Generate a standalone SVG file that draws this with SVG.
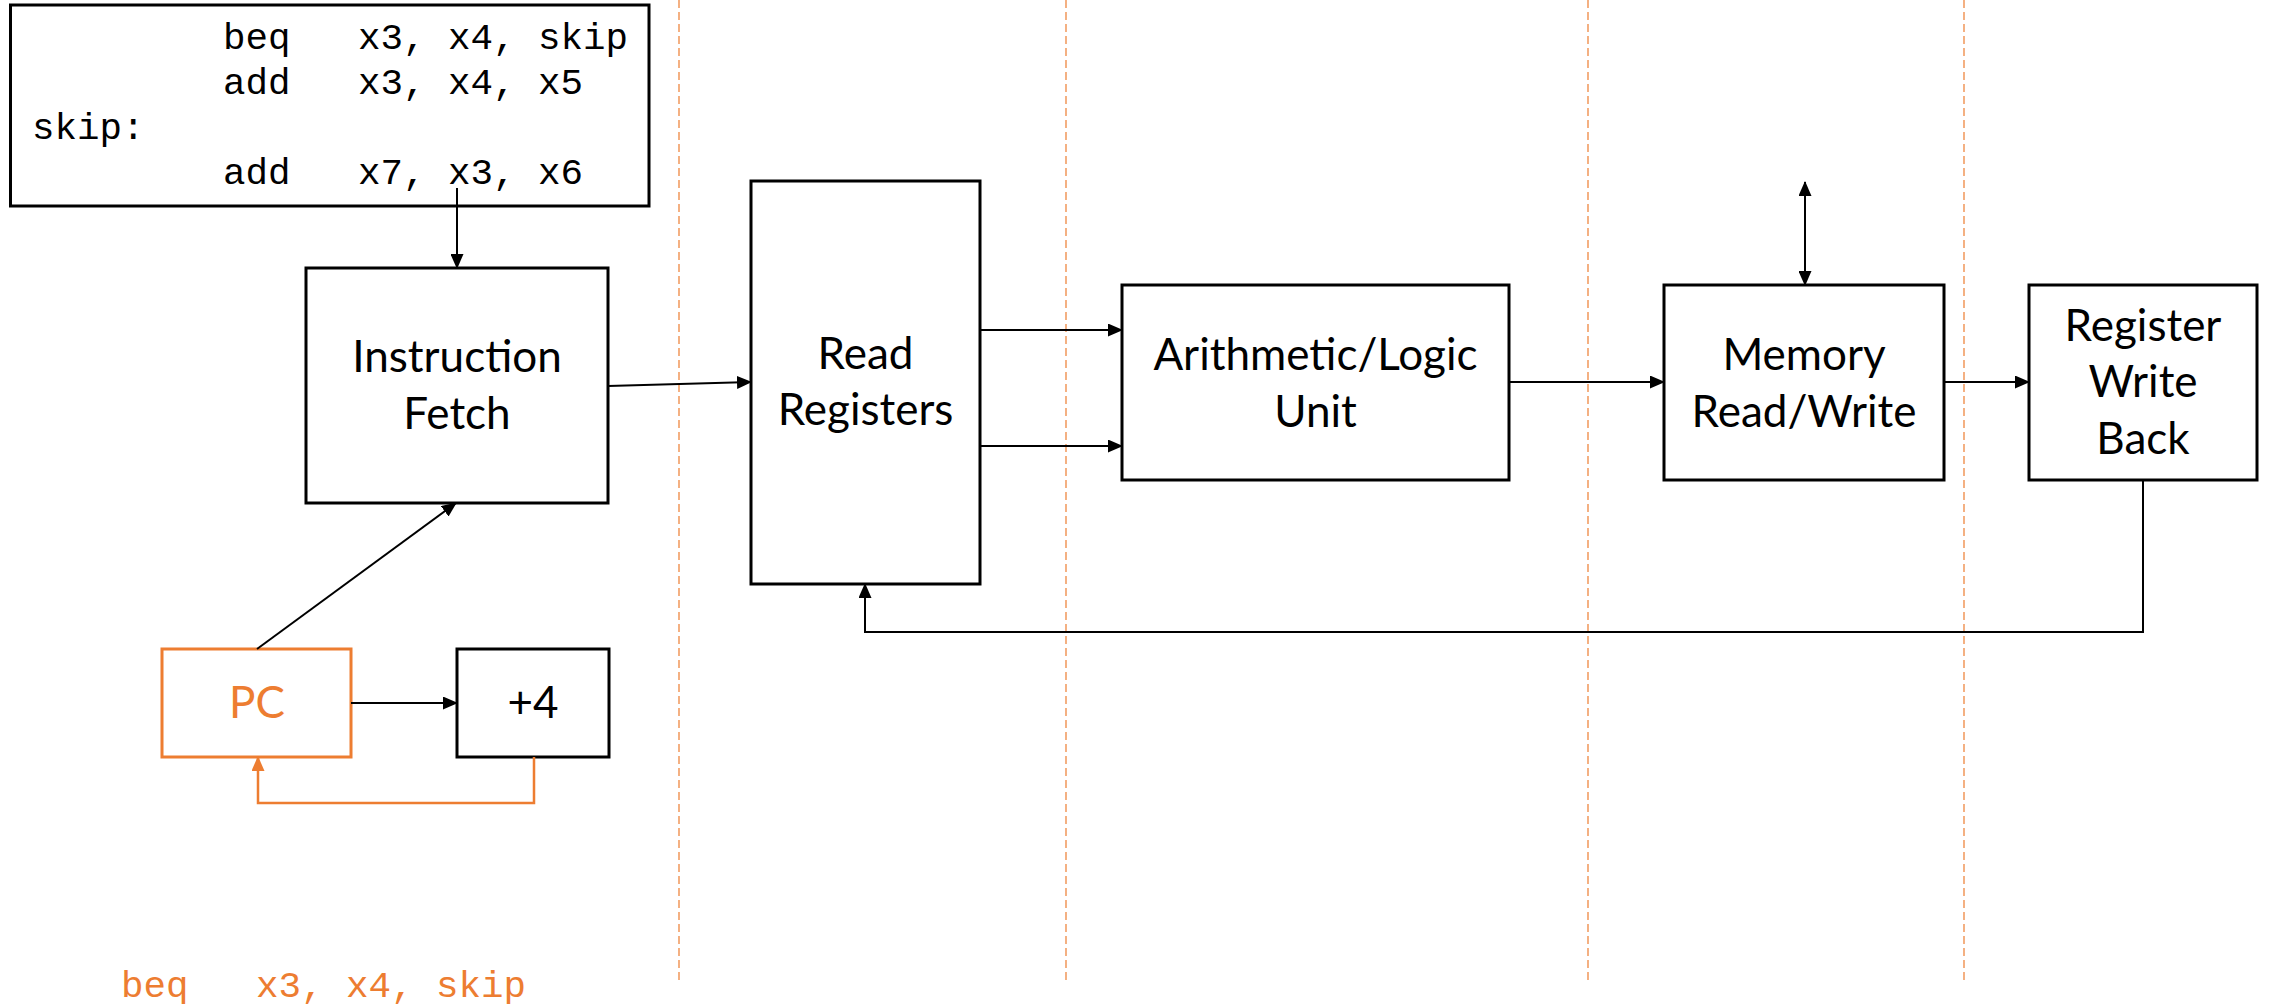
<svg xmlns="http://www.w3.org/2000/svg" width="2269" height="1004" viewBox="0 0 2269 1004">
  <style>
    .box { fill: #ffffff; stroke: #000000; stroke-width: 3; }
    .box-pc { fill: #ffffff; stroke: #ED7D31; stroke-width: 3; }
    .label { font-family: Lato, "Open Sans", sans-serif; font-size: 44px; fill: #000000; text-anchor: middle; }
    .label-pc { font-family: Lato, "Open Sans", sans-serif; font-size: 44px; fill: #ED7D31; text-anchor: middle; }
    .code { font-family: "Liberation Mono", monospace; font-size: 37.5px; fill: #000000; white-space: pre; }
    .code-pc { font-family: "Liberation Mono", monospace; font-size: 37.5px; fill: #ED7D31; white-space: pre; }
    .wire { fill: none; stroke: #000000; stroke-width: 2; }
    .wire-pc { fill: none; stroke: #ED7D31; stroke-width: 2.5; }
    .stage { stroke: #ED7D31; stroke-width: 1.2; stroke-dasharray: 8 4; }
  </style>
  <defs>
    <marker id="arrow" markerUnits="userSpaceOnUse" markerWidth="15" markerHeight="13" refX="14" refY="6.5" orient="auto-start-reverse">
      <path d="M0,0 L15,6.5 L0,13 z" fill="#000000"/>
    </marker>
    <marker id="arrow-pc" markerUnits="userSpaceOnUse" markerWidth="15" markerHeight="13" refX="14" refY="6.5" orient="auto">
      <path d="M0,0 L15,6.5 L0,13 z" fill="#ED7D31"/>
    </marker>
  </defs>
  <rect width="2269" height="1004" fill="#ffffff"/>

  <!-- pipeline stage boundaries -->
  <g id="stage-lines">
    <line class="stage" x1="679" y1="0" x2="679" y2="983"/>
    <line class="stage" x1="1066" y1="0" x2="1066" y2="983"/>
    <line class="stage" x1="1588" y1="0" x2="1588" y2="983"/>
    <line class="stage" x1="1964" y1="0" x2="1964" y2="983"/>
  </g>

  <g id="program">
    <rect class="box" x="10.5" y="5" width="638.5" height="201"/>
    <text class="code" x="223" y="49">beq   x3, x4, skip</text>
    <text class="code" x="223" y="94">add   x3, x4, x5</text>
    <text class="code" x="32" y="139">skip:</text>
    <text class="code" x="223" y="184">add   x7, x3, x6</text>
  </g>

  <g id="instruction-fetch">
    <rect class="box" x="306" y="268" width="302" height="235"/>
    <text class="label" x="457" y="372">Instruction</text>
    <text class="label" x="457" y="429">Fetch</text>
  </g>

  <g id="read-registers">
    <rect class="box" x="751" y="181" width="229" height="403"/>
    <text class="label" x="865.5" y="369">Read</text>
    <text class="label" x="865.5" y="425">Registers</text>
  </g>

  <g id="alu">
    <rect class="box" x="1122" y="285" width="387" height="195"/>
    <text class="label" x="1315.5" y="370">Arithmetic/Logic</text>
    <text class="label" x="1315.5" y="427">Unit</text>
  </g>

  <g id="memory">
    <rect class="box" x="1664" y="285" width="280" height="195"/>
    <text class="label" x="1804" y="370">Memory</text>
    <text class="label" x="1804" y="427">Read/Write</text>
  </g>

  <g id="write-back">
    <rect class="box" x="2029" y="285" width="228" height="195"/>
    <text class="label" x="2143" y="341">Register</text>
    <text class="label" x="2143" y="397">Write</text>
    <text class="label" x="2143" y="454">Back</text>
  </g>

  <g id="pc">
    <rect class="box-pc" x="162" y="649" width="189" height="108"/>
    <text class="label-pc" x="257" y="718">PC</text>
  </g>

  <g id="plus-four">
    <rect class="box" x="457" y="649" width="152" height="108"/>
    <text class="label" x="533" y="718">+4</text>
  </g>

  <g id="current-instruction">
    <text class="code-pc" x="121" y="997">beq   x3, x4, skip</text>
  </g>

  <g id="connectors">
    <path class="wire" d="M457,188 V268" marker-end="url(#arrow)"/>
    <path class="wire" d="M608,386 L751,382" marker-end="url(#arrow)"/>
    <path class="wire" d="M257,649 L456,503" marker-end="url(#arrow)"/>
    <path class="wire" d="M351,703 H457" marker-end="url(#arrow)"/>
    <path class="wire-pc" d="M534,757 V803 H258 V757" marker-end="url(#arrow-pc)"/>
    <path class="wire" d="M980,330 H1122" marker-end="url(#arrow)"/>
    <path class="wire" d="M980,446 H1122" marker-end="url(#arrow)"/>
    <path class="wire" d="M1509,382 H1664" marker-end="url(#arrow)"/>
    <path class="wire" d="M1805,182 V285" marker-start="url(#arrow)" marker-end="url(#arrow)"/>
    <path class="wire" d="M1944,382 H2029" marker-end="url(#arrow)"/>
    <path class="wire" d="M2143,480 V632 H865 V584" marker-end="url(#arrow)"/>
  </g>
</svg>
